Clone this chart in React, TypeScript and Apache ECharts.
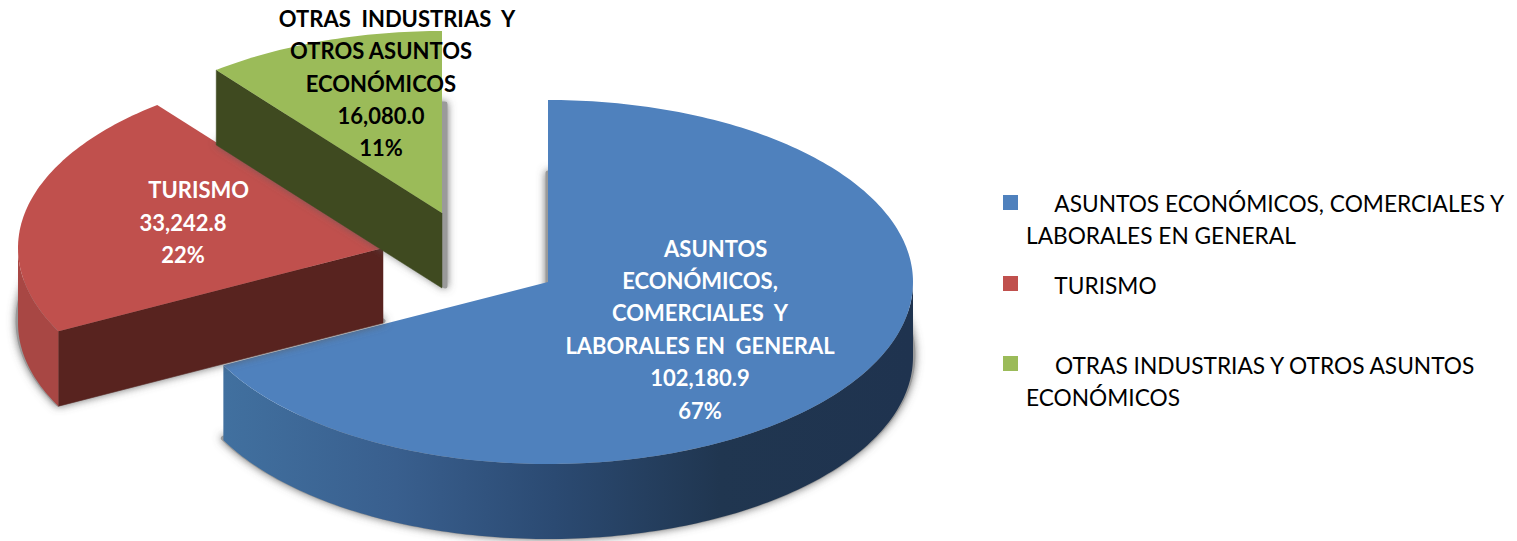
import React, { useEffect, useRef } from "react";
import * as echarts from "echarts";

const categories = [
  "ASUNTOS ECONÓMICOS, COMERCIALES Y LABORALES EN GENERAL",
  "TURISMO",
  "OTRAS INDUSTRIAS Y OTROS ASUNTOS ECONÓMICOS",
];
const seriesValues = [102180.9, 33242.8, 16080.0];
const sliceColors = ["#4f81bd", "#c0504d", "#9bbb59"];
const cutColors = ["#1f334f", "#58231f", "#3f4a20"];
const labelLines = [
  ["      ASUNTOS", "ECONÓMICOS,", "COMERCIALES  Y", "LABORALES EN  GENERAL"],
  ["      TURISMO"],
  ["      OTRAS  INDUSTRIAS  Y", "OTROS ASUNTOS", "ECONÓMICOS"],
];
const labelColors = ["#ffffff", "#ffffff", "#000000"];
const legendLines = [
  ["ASUNTOS ECONÓMICOS, COMERCIALES Y", "LABORALES EN GENERAL"],
  ["TURISMO"],
  ["OTRAS INDUSTRIAS Y OTROS ASUNTOS", "ECONÓMICOS"],
];

// Layout of the exploded, tilted pie
const apexX = [548, 383, 442];
const apexY = [282, 248, 213];
const shadowShift = [0, 0, 3];
const RX = 365;
const RY = 182;
const DEPTH = 75;
const labelX = [700, 183, 381];
const labelY = [329, 222, 83];
const legendSwatchY = [195, 276, 356];
const legendTextY = [219, 285, 381];
const FONT = "Lato";

const total = seriesValues.reduce((a, b) => a + b, 0);

function pt(cx: number, cy: number, deg: number): number[] {
  const r = (deg * Math.PI) / 180;
  return [cx + Math.sin(r) * RX, cy - Math.cos(r) * RY];
}
function arc(cx: number, cy: number, from: number, to: number): number[][] {
  const out: number[][] = [];
  const n = Math.max(2, Math.ceil(Math.abs(to - from)));
  for (let i = 0; i <= n; i++) out.push(pt(cx, cy, from + ((to - from) * i) / n));
  return out;
}

function renderSlice(params: any, api: any) {
  const i = params.dataIndex;
  const value = api.value(0);
  let before = 0;
  for (let k = 0; k < i; k++) before += seriesValues[k];
  const a0 = (before / total) * 360;
  const a1 = ((before + value) / total) * 360;
  const cx = apexX[i];
  const cy = apexY[i];
  const top = [[cx, cy], ...arc(cx, cy, a0, a1)];
  const baseY = cy + DEPTH;
  const children: any[] = [];

  // soft shadow from the base outline
  const base = [[cx, baseY], ...arc(cx, baseY, a0, a1)].map((p) => [
    p[0] + shadowShift[i],
    p[1] - 2,
  ]);
  children.push({
    type: "polygon",
    shape: { points: base },
    style: {
      fill: "#9a9a9a",
      stroke: "#9a9a9a",
      lineWidth: 5,
      lineJoin: "round",
      shadowBlur: 9,
      shadowColor: "rgba(90,90,90,0.85)",
    },
  });

  // flat cut face at the start of the slice (red and green face the viewer)
  if (i > 0) {
    const cutAt = pt(cx, cy, a0);
    children.push({
      type: "polygon",
      shape: {
        points: [
          [cx, cy],
          cutAt,
          [cutAt[0], cutAt[1] + DEPTH],
          [cx, cy + DEPTH],
        ],
      },
      style: { fill: cutColors[i], stroke: cutColors[i], lineWidth: 0.5 },
    });
  }

  // curved outer wall: only the part of the rim facing the viewer (90°..270°)
  const wFrom = Math.max(a0, 90);
  const wTo = Math.min(a1, 270);
  if (wTo > wFrom) {
    const upper = arc(cx, cy, wFrom, wTo);
    const lower = arc(cx, cy + DEPTH, wFrom, wTo).reverse();
    const fill =
      i === 0
        ? new echarts.graphic.LinearGradient(0, 0, 1, 0, [
            { offset: 0, color: "#41709f" },
            { offset: 0.25, color: "#395f8e" },
            { offset: 0.48, color: "#2b4a72" },
            { offset: 0.72, color: "#203650" },
            { offset: 1, color: "#1f334f" },
          ])
        : "#a84744";
    children.push({
      type: "polygon",
      shape: { points: [...upper, ...lower] },
      style: { fill },
    });
  }

  // top face
  children.push({
    type: "polygon",
    shape: { points: top },
    style: { fill: sliceColors[i] },
  });
  return { type: "group", children };
}

function formatValue(v: number) {
  return v.toLocaleString("en-US", { minimumFractionDigits: 1, maximumFractionDigits: 1 });
}

export default function App() {
  const ref = useRef<HTMLDivElement>(null);
  useEffect(() => {
    if (!ref.current) return;
    const chart = echarts.init(ref.current, undefined, { renderer: "svg" });
    const labels = categories.map((_, i) => ({
      type: "text",
      x: labelX[i],
      y: labelY[i],
      z: 100,
      style: {
        text: [
          ...labelLines[i],
          formatValue(seriesValues[i]),
          `${Math.round((seriesValues[i] / total) * 100)}%`,
        ].join("\n"),
        fill: labelColors[i],
        font: `bold 22px ${FONT}`,
        lineHeight: 32.4,
        align: "center",
        verticalAlign: "middle",
      },
    }));
    const swatches = categories.map((_, i) => ({
      type: "rect",
      shape: { x: 1003, y: legendSwatchY[i], width: 15, height: 15 },
      style: { fill: sliceColors[i] },
      z: 100,
    }));
    const legendTexts = categories.map((_, i) => ({
      type: "text",
      x: 1026,
      y: legendTextY[i],
      z: 100,
      style: {
        text: legendLines[i]
          .map((l, k) => (k === 0 ? "     " + l : l))
          .join("\n"),
        fill: "#000000",
        font: `22.7px ${FONT}`,
        lineHeight: 32,
        align: "left",
        verticalAlign: "middle",
      },
    }));
    chart.setOption({
      animation: false,
      backgroundColor: "#ffffff",
      series: [
        {
          type: "custom",
          coordinateSystem: "none",
          renderItem: renderSlice,
          data: seriesValues.map((v) => [v]),
          encode: { value: 0 },
          z: 2,
        },
      ],
      graphic: { elements: [...labels, ...swatches, ...legendTexts] },
    });
    return () => chart.dispose();
  }, []);
  return (
    <div
      ref={ref}
      style={{ position: "absolute", left: 0, top: 0, width: 1517, height: 541 }}
    />
  );
}
